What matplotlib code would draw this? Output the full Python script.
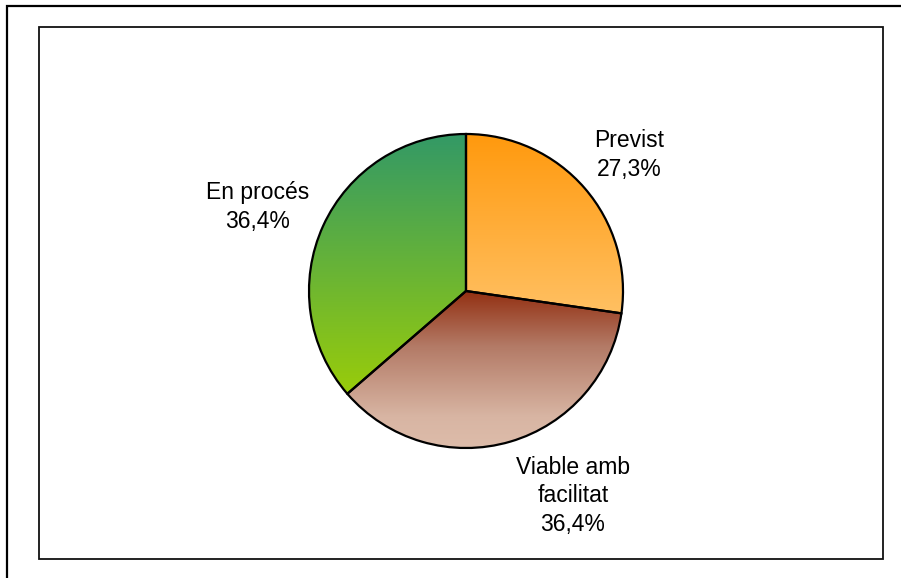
import numpy as np
import matplotlib.pyplot as plt
from matplotlib.colors import LinearSegmentedColormap
from matplotlib.patches import Rectangle

plt.rcParams['font.family'] = ['Liberation Sans', 'DejaVu Sans']

# Dades
categories = ['Previst', 'Viable amb\nfacilitat', 'En procés']
values = [27.3, 36.4, 36.4]
pct_labels = ['27,3%', '36,4%', '36,4%']

# degradats (color de dalt -> color de baix)
gradients = [
    [(0.0, '#FF990D'), (1.0, '#FFC062')],
    [(0.0, '#933012'), (0.35, '#B37A66'), (0.8, '#D8B5A3'), (1.0, '#DDBCAA')],
    [(0.0, '#339966'), (1.0, '#99CC0A')],
]
label_pos = [(629, 423), (573, 82), (258, 371)]

W, H = 901, 578
fig = plt.figure(figsize=(W / 100, H / 100), dpi=100)
ax = fig.add_axes([0, 0, 1, 1])

# marcs
ax.add_patch(Rectangle((7, -20), 920, 578 - 6 + 20, fill=False, ec='black', lw=1.6))
ax.add_patch(Rectangle((39, 578 - 559), 883 - 39, 559 - 27, fill=False, ec='#111111', lw=1.3))

cx, cy, r = 466, 578 - 291, 157
wedges, _ = ax.pie(values, startangle=90, counterclock=False, center=(cx, cy),
                   radius=r, frame=True,
                   wedgeprops=dict(facecolor='none', edgecolor='black', linewidth=1.6))

for w, g in zip(wedges, gradients):
    ext = w.get_path().get_extents()
    cmap = LinearSegmentedColormap.from_list('g', g)
    grad = np.linspace(0, 1, 256).reshape(-1, 1)
    im = ax.imshow(grad, cmap=cmap, aspect='auto', origin='upper',
                   extent=[ext.x0, ext.x1, ext.y0, ext.y1], zorder=1)
    im.set_clip_path(w)
    w.set_zorder(2)

for cat, p, (x, y) in zip(categories, pct_labels, label_pos):
    ax.text(x, y, cat + '\n' + p, ha='center', va='center', fontsize=16.5,
            linespacing=1.3, color='black', zorder=3)

ax.set_xlim(0, W)
ax.set_ylim(0, H)
ax.axis('off')
fig.savefig('out.png', dpi=100)
